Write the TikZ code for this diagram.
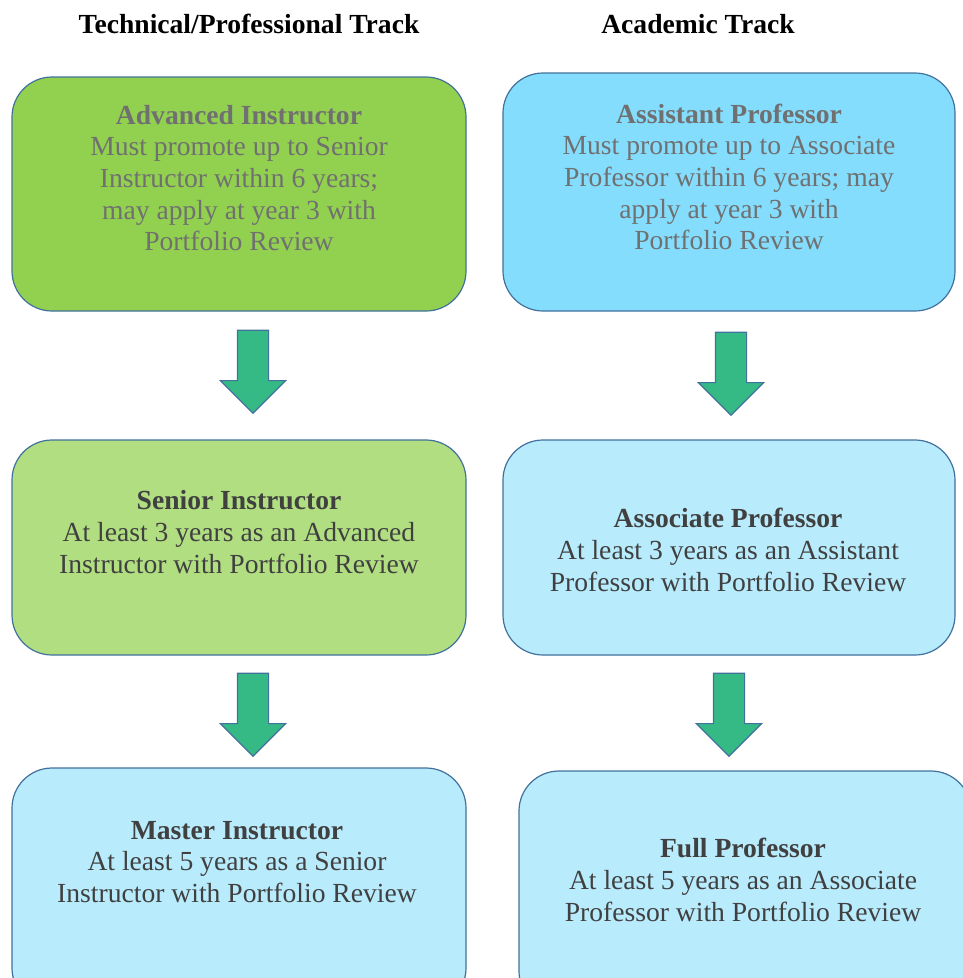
\documentclass[tikz,border=0pt]{standalone}
\usepackage{fontspec}
\setmainfont{Liberation Serif}
\usetikzlibrary{shapes.arrows, positioning, calc}
\definecolor{topgreen}{HTML}{92D050}
\definecolor{midgreen}{HTML}{B0DE81}
\definecolor{topblue}{HTML}{84DDFC}
\definecolor{paleblue}{HTML}{B8EBFC}
\definecolor{edgeblue}{HTML}{41719C}
\definecolor{arrowfill}{HTML}{35BA86}
\definecolor{softtext}{HTML}{707070}
\definecolor{darktext}{HTML}{404040}
\tikzset{
    every node/.style={font=\fontsize{27.6}{31.7}\selectfont}, % Times-like body size
    box/.style={draw=edgeblue, line width=1.2pt, rounded corners=40pt, minimum width=454pt}, % Rounded step boxes
    caption/.style={align=center, text=darktext, inner sep=0pt}, % Text inside the boxes
    header/.style={font=\fontsize{27.6}{31.7}\selectfont\bfseries}, % Track titles
    flow/.style={single arrow, draw=edgeblue, line width=1.2pt, fill=arrowfill, rotate=-90, anchor=tail,
        minimum height=83pt, inner xsep=0pt, inner ysep=15pt, single arrow head extend=17pt}, % Block arrows
}
\begin{document}
\begin{tikzpicture}[x=1pt, y=-1pt]
    \useasboundingbox (0,0) rectangle (963,978);
    \clip (0,0) rectangle (963,978);

    \node[header] (techH) at (249,24) {Technical/Professional Track};
    \node[header] (acadH) at (698,24) {Academic Track};

    % Technical/Professional track
    \node[box, fill=topgreen, minimum height=234pt] (adv) at (239,194) {};
    \node[caption, text=softtext] (advT) at (239,178) {\textbf{Advanced Instructor}\\Must promote up to Senior\\Instructor within 6 years;\\may apply at year 3 with\\Portfolio Review};
    \node[box, fill=midgreen, minimum height=215pt] (sen) at (239,547.5) {};
    \node[caption] (senT) at (239,532) {\textbf{Senior Instructor}\\At least 3 years as an Advanced\\Instructor with Portfolio Review};
    \node[box, fill=paleblue, minimum height=240pt] (mast) at (239,888) {};
    \node[caption] (mastT) at (237,862) {\textbf{Master Instructor}\\At least 5 years as a Senior\\Instructor with Portfolio Review};

    % Academic track
    \node[box, fill=topblue, minimum width=452pt, minimum height=238pt] (asst) at (729,192) {};
    \node[caption, text=softtext] (asstT) at (729,177) {\textbf{Assistant Professor}\\Must promote up to Associate\\Professor within 6 years; may\\apply at year 3 with\\Portfolio Review};
    \node[box, fill=paleblue, minimum width=452pt, minimum height=215pt] (assoc) at (729,547.5) {};
    \node[caption] (assocT) at (728,550) {\textbf{Associate Professor}\\At least 3 years as an Assistant\\Professor with Portfolio Review};
    \node[box, fill=paleblue, minimum width=452pt, minimum height=240pt] (full) at (745,891) {};
    \node[caption] (fullT) at (743,880) {\textbf{Full Professor}\\At least 5 years as an Associate\\Professor with Portfolio Review};

    % Promotion arrows, hung below each box
    \node[flow] (advsen) at ([xshift=14pt, yshift=-18pt]adv.south) {};
    \node[flow] (senmast) at ([xshift=14pt, yshift=-17pt]sen.south) {};
    \node[flow] (asstassoc) at ([xshift=2pt, yshift=-20pt]asst.south) {};
    \node[flow] (assocfull) at ([yshift=-17pt]assoc.south) {};
\end{tikzpicture}
\end{document}
